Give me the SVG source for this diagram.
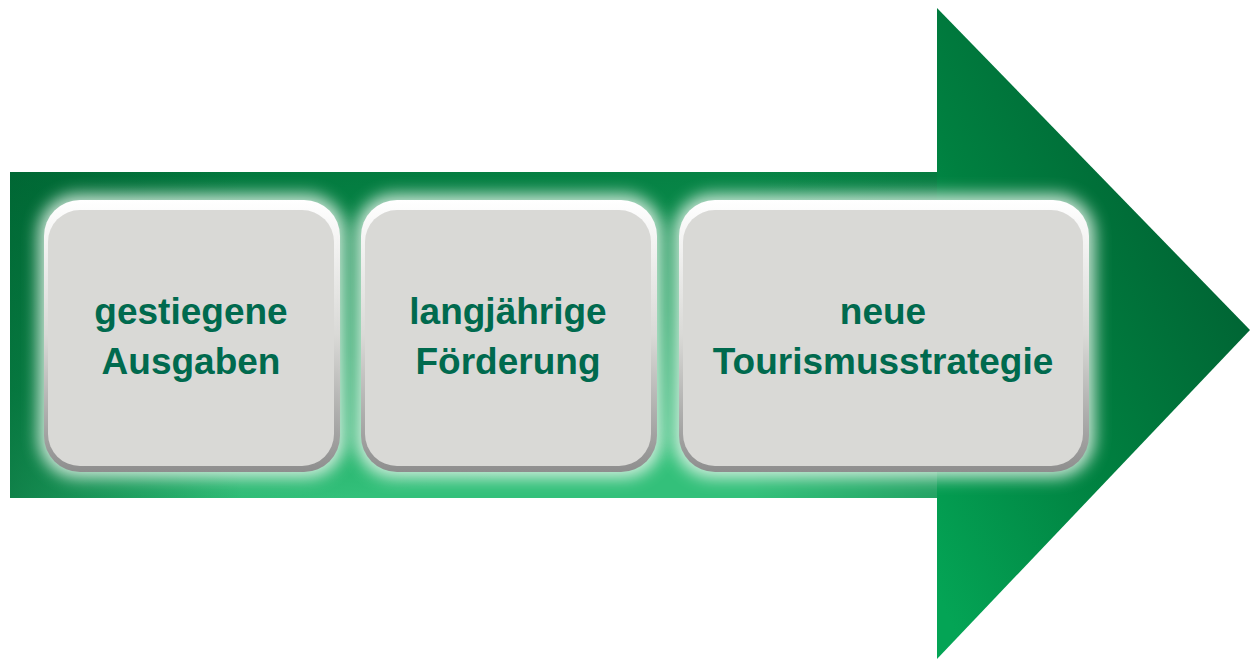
<svg xmlns="http://www.w3.org/2000/svg" width="1250" height="659" viewBox="0 0 1250 659">
<defs>
<linearGradient id="shaft" x1="0" y1="0" x2="0.35" y2="1">
<stop offset="0" stop-color="#00733a"/>
<stop offset="0.6" stop-color="#0f9a55"/>
<stop offset="1" stop-color="#33c07a"/>
</linearGradient>
<linearGradient id="shaftH" x1="0" y1="0" x2="1" y2="0">
<stop offset="0" stop-color="#005f30" stop-opacity="0.6"/>
<stop offset="0.25" stop-color="#005f30" stop-opacity="0"/>
<stop offset="0.8" stop-color="#005f30" stop-opacity="0"/>
<stop offset="1" stop-color="#005f30" stop-opacity="0.3"/>
</linearGradient>
<linearGradient id="head" x1="0.1" y1="1" x2="0.9" y2="0.2">
<stop offset="0" stop-color="#04a455"/>
<stop offset="0.45" stop-color="#008040"/>
<stop offset="1" stop-color="#005e31"/>
</linearGradient>
<filter id="glow" x="-20%" y="-20%" width="140%" height="140%">
<feGaussianBlur stdDeviation="8"/>
</filter>
<linearGradient id="rim" x1="0" y1="0" x2="0" y2="1">
<stop offset="0" stop-color="#ffffff"/>
<stop offset="0.5" stop-color="#d9d9d6"/>
<stop offset="1" stop-color="#8e8e8e"/>
</linearGradient>
<style>
.glow{fill:#e8f5ec;opacity:0.85;filter:url(#glow)}
.rim{fill:url(#rim)}
.face{fill:#d9d9d6}
.lbl{font-family:"Liberation Sans",Arial,sans-serif;font-weight:bold;font-size:37px;fill:#006a4e;text-anchor:middle}
</style>
</defs>
<g id="arrow">
<rect x="10" y="172" width="928" height="326" fill="url(#shaft)"/>
<rect x="10" y="172" width="928" height="326" fill="url(#shaftH)"/>
<polygon points="937,8 1250,330 937,659" fill="url(#head)"/>
</g>
<g id="node1">
<rect class="glow" x="38" y="194" width="308" height="284" rx="40"/>
<rect class="rim" x="44" y="200" width="296" height="272" rx="36"/>
<rect class="face" x="48" y="210" width="286" height="256" rx="32"/>
<text class="lbl" x="191" y="324">gestiegene</text>
<text class="lbl" x="191" y="374">Ausgaben</text>
</g>
<g id="node2">
<rect class="glow" x="355" y="194" width="308" height="284" rx="40"/>
<rect class="rim" x="361" y="200" width="296" height="272" rx="36"/>
<rect class="face" x="365" y="210" width="286" height="256" rx="32"/>
<text class="lbl" x="508" y="324">langjährige</text>
<text class="lbl" x="508" y="374">Förderung</text>
</g>
<g id="node3">
<rect class="glow" x="673" y="194" width="422" height="284" rx="40"/>
<rect class="rim" x="679" y="200" width="410" height="272" rx="36"/>
<rect class="face" x="683" y="210" width="400" height="256" rx="32"/>
<text class="lbl" x="883" y="324">neue</text>
<text class="lbl" x="883" y="374">Tourismusstrategie</text>
</g>
<g id="connectors"/>
</svg>
